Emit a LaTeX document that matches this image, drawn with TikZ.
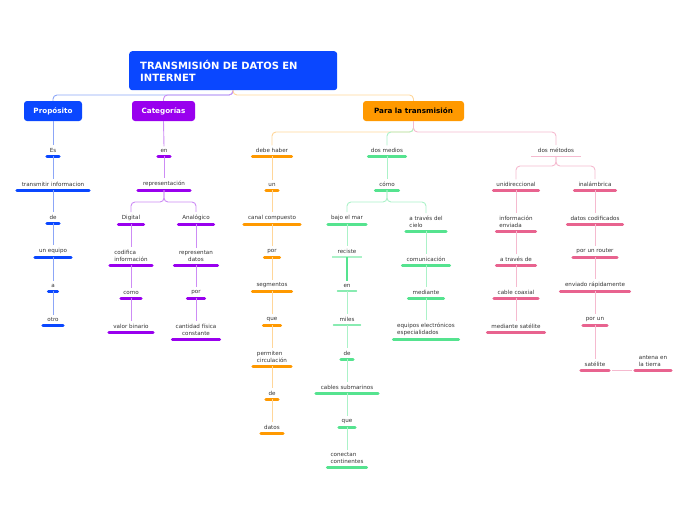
\documentclass[tikz,border=0pt]{standalone}
\usepackage{fontspec}
\setmainfont{DejaVu Sans}
\definecolor{cblue}{HTML}{0A47FF}
\definecolor{cpurple}{HTML}{9900EE}
\definecolor{corange}{HTML}{FF9900}
\definecolor{cgreen}{HTML}{55E38F}
\definecolor{cpink}{HTML}{E8638F}
\definecolor{lblue}{HTML}{8CA6F7}
\definecolor{lpurple}{HTML}{CD8CF5}
\definecolor{lorange}{HTML}{FFD699}
\definecolor{lgreen}{HTML}{ABF2C8}
\definecolor{lpink}{HTML}{F5BACF}
\definecolor{ctext}{HTML}{333333}
\newcommand\tfont{\fontsize{5.6}{7}\selectfont}
\tikzset{
  tp/.style={font=\tfont, text=ctext, inner xsep=0pt, inner ysep=3pt, anchor=south, align=center, minimum width=#1},
  tpl/.style={tp=#1, align=left},
  main/.style={rounded corners=3pt, inner sep=0pt, font=\bfseries\fontsize{7.2}{8}\selectfont, text=white, minimum height=20pt},
  bar/.style={line width=3pt, line cap=round, draw=#1},
  thinbar/.style={line width=1.5pt, line cap=round, draw=#1},
  link/.style={line width=0.9pt, draw=#1, rounded corners=4pt},
}
\newcommand\barb[2]{\draw[bar=#2] ([xshift=1.5pt]#1.south west) -- ([xshift=-1.5pt]#1.south east);}
\newcommand\bart[2]{\draw[thinbar=#2] ([xshift=0.75pt]#1.south west) -- ([xshift=-0.75pt]#1.south east);}
\begin{document}
\begin{tikzpicture}[x=1pt,y=-1pt]
\useasboundingbox (0,0) rectangle (696,520);
% main nodes
\node[main, fill=cblue, anchor=north west, minimum width=208pt, minimum height=39pt, text width=186pt, align=left, inner xsep=11pt, font=\bfseries\fontsize{10}{12}\selectfont] (title) at (129,51) {TRANSMISIÓN DE DATOS EN\\INTERNET};
\node[main, fill=cblue, minimum width=58pt] (prop) at (53,111) {Propósito};
\node[main, fill=cpurple, minimum width=63pt] (cat) at (163.5,111) {Categorías};
\node[main, fill=corange, text=black, minimum width=101pt] (para) at (413.5,111) {Para la transmisión};
\coordinate (tj) at (233,95);
\coordinate (pj) at (413.5,132);
\draw[link=lblue] (233,90) -- (tj) -| (prop.north);
\draw[link=lpurple] (233,90) -- (tj) -| (cat.north);
\draw[link=lorange] (233,90) -- (tj) -| (para.north);

% Proposito column
\node[tp=15] (p1) at (53,156) {Es};
\node[tp=75] (p2) at (53,190) {transmitir informacion};
\node[tp=15] (p3) at (53,223) {de};
\node[tp=39] (p4) at (53,257) {un equipo};
\node[tp=12] (p5) at (53,291) {a};
\node[tp=23] (p6) at (53,325) {otro};
\foreach \n in {p1,p2,p3,p4,p5,p6} {\barb{\n}{cblue}}
\draw[link=lblue] (prop.south) -- (p1.north);
\draw[link=lblue] (p1.south) -- (p2.north);
\draw[link=lblue] (p2.south) -- (p3.north);
\draw[link=lblue] (p3.south) -- (p4.north);
\draw[link=lblue] (p4.south) -- (p5.north);
\draw[link=lblue] (p5.south) -- (p6.north);

% Categorias column
\node[tp=15] (c1) at (164,156) {en};
\node[tp=55] (c2) at (164,190) {representación};
\node[tp=28] (c3) at (131,224) {Digital};
\node[tp=38] (c4) at (196,224) {Analógico};
\node[tpl=45] (c5) at (131,265) {codifica\\información};
\node[tp=46] (c6) at (196,265) {representan\\datos};
\node[tp=23] (c7) at (131,298) {como};
\node[tp=20] (c8) at (196,298) {por};
\node[tp=47] (c9) at (131,332) {valor binario};
\node[tp=50] (c10) at (196,339) {cantidad física\\constante};
\foreach \n in {c1,c2,c3,c4,c5,c6,c7,c8,c9,c10} {\barb{\n}{cpurple}}
\draw[link=lpurple] (cat.south) -- (c1.north);
\draw[link=lpurple] (c1.south) -- (c2.north);
\draw[link=lpurple] (c2.south) -- ++(0,12) -| (c3.north);
\draw[link=lpurple] (c2.south) -- ++(0,12) -| (c4.north);
\draw[link=lpurple] (c3.south) -- (c5.north);
\draw[link=lpurple] (c5.south) -- (c7.north);
\draw[link=lpurple] (c7.south) -- (c9.north);
\draw[link=lpurple] (c4.south) -- (c6.north);
\draw[link=lpurple] (c6.south) -- (c8.north);
\draw[link=lpurple] (c8.south) -- (c10.north);

% Orange column
\node[tp=42] (o1) at (272,156) {debe haber};
\node[tp=15] (o2) at (272,190) {un};
\node[tp=59] (o3) at (272,224) {canal compuesto};
\node[tp=18] (o4) at (272,257) {por};
\node[tp=42] (o5) at (272,291) {segmentos};
\node[tp=20] (o6) at (272,325) {que};
\node[tpl=41] (o7) at (272,366) {permiten\\circulación};
\node[tp=15] (o8) at (272,399) {de};
\node[tp=25] (o9) at (272,433) {datos};
\foreach \n in {o1,o2,o3,o4,o5,o6,o7,o8,o9} {\barb{\n}{corange}}
\draw[link=lorange] (para.south) -- (pj) -| (o1.north);
\draw[link=lorange] (o1.south) -- (o2.north);
\draw[link=lorange] (o2.south) -- (o3.north);
\draw[link=lorange] (o3.south) -- (o4.north);
\draw[link=lorange] (o4.south) -- (o5.north);
\draw[link=lorange] (o5.south) -- (o6.north);
\draw[link=lorange] (o6.south) -- (o7.north);
\draw[link=lorange] (o7.south) -- (o8.north);
\draw[link=lorange] (o8.south) -- (o9.north);

% Green column
\node[tp=40] (g1) at (387,156) {dos medios};
\node[tp=26] (g2) at (387,190) {cómo};
\node[tp=41] (g3) at (347,224) {bajo el mar};
\node[tpl=43] (g4) at (426,231) {a través del\\cielo};
\node[tp=30] (g5) at (347,257) {reciste};
\node[tp=20] (g6) at (347,291) {en};
\node[tp=28] (g7) at (347,325) {miles};
\node[tp=15] (g8) at (347,359) {de};
\node[tp=65] (g9) at (347,393) {cables submarinos};
\node[tp=19] (g10) at (347,427) {que};
\node[tpl=42] (g11) at (347,467) {conectan\\continentes};
\node[tp=50] (g12) at (426,265) {comunicación};
\node[tp=38] (g13) at (426,298) {mediante};
\node[tpl=68] (g14) at (426,339) {equipos electrónicos\\especialidados};
\foreach \n in {g1,g2,g3,g4,g8,g9,g10,g11,g12,g13,g14} {\barb{\n}{cgreen}}
\draw[line width=1.5pt, draw=lgreen] (g5.south west) -- (g5.south east);
\bart{g6}{cgreen!70}
\bart{g7}{cgreen!70}
\draw[link=lgreen] (para.south) -- (pj) -| (g1.north);
\draw[link=lgreen] (g1.south) -- (g2.north);
\draw[link=lgreen] (g2.south) -- ++(0,12) -| (g3.north);
\draw[link=lgreen] (g2.south) -- ++(0,12) -| (g4.north);
\draw[link=lgreen] (g3.south) -- (g5.north);
\draw[line width=1.5pt, draw=cgreen] (g5.south) -- (g6.north);
\draw[link=lgreen] (g6.south) -- (g7.north);
\draw[link=lgreen] (g7.south) -- (g8.north);
\draw[link=lgreen] (g8.south) -- (g9.north);
\draw[link=lgreen] (g9.south) -- (g10.north);
\draw[link=lgreen] (g10.south) -- (g11.north);
\draw[link=lgreen] (g4.south) -- (g12.north);
\draw[link=lgreen] (g12.south) -- (g13.north);
\draw[link=lgreen] (g13.south) -- (g14.north);

% Pink column
\node[tp=49] (k1) at (556,156) {dos métodos};
\node[tp=48] (k2) at (516,190) {unidireccional};
\node[tp=44] (k3) at (595,190) {inalámbrica};
\node[tpl=42] (k4) at (516,231) {información\\enviada};
\node[tp=58] (k5) at (595,224) {datos codificados};
\node[tp=42] (k6) at (516,265) {a través de};
\node[tp=47] (k7) at (595,257) {por un router};
\node[tp=47] (k8) at (516,298) {cable coaxial};
\node[tp=72] (k9) at (595,291) {enviado rápidamente};
\node[tp=60] (k10) at (516,332) {mediante satélite};
\node[tp=27] (k11) at (595,325) {por un};
\node[tp=31] (k12) at (595,370) {satélite};
\node[tpl=39] (k13) at (653,370) {antena en\\la tierra};
\foreach \n in {k2,k3,k4,k5,k6,k7,k8,k9,k10,k11,k12,k13} {\barb{\n}{cpink}}
\draw[line width=1pt, draw=lpink] (k1.south west) -- (k1.south east);
\draw[link=lpink] (para.south) -- (pj) -| (k1.north);
\draw[link=lpink] (k1.south) -- ++(0,10) -| (k2.north);
\draw[link=lpink] (k1.south) -- ++(0,10) -| (k3.north);
\draw[link=lpink] (k2.south) -- (k4.north);
\draw[link=lpink] (k4.south) -- (k6.north);
\draw[link=lpink] (k6.south) -- (k8.north);
\draw[link=lpink] (k8.south) -- (k10.north);
\draw[link=lpink] (k3.south) -- (k5.north);
\draw[link=lpink] (k5.south) -- (k7.north);
\draw[link=lpink] (k7.south) -- (k9.north);
\draw[link=lpink] (k9.south) -- (k11.north);
\draw[link=lpink] (k11.south) -- (k12.north);
\draw[link=lpink] ([xshift=1.5pt]k12.south east) -- ([xshift=-1.5pt]k13.south west);
\end{tikzpicture}
\end{document}
